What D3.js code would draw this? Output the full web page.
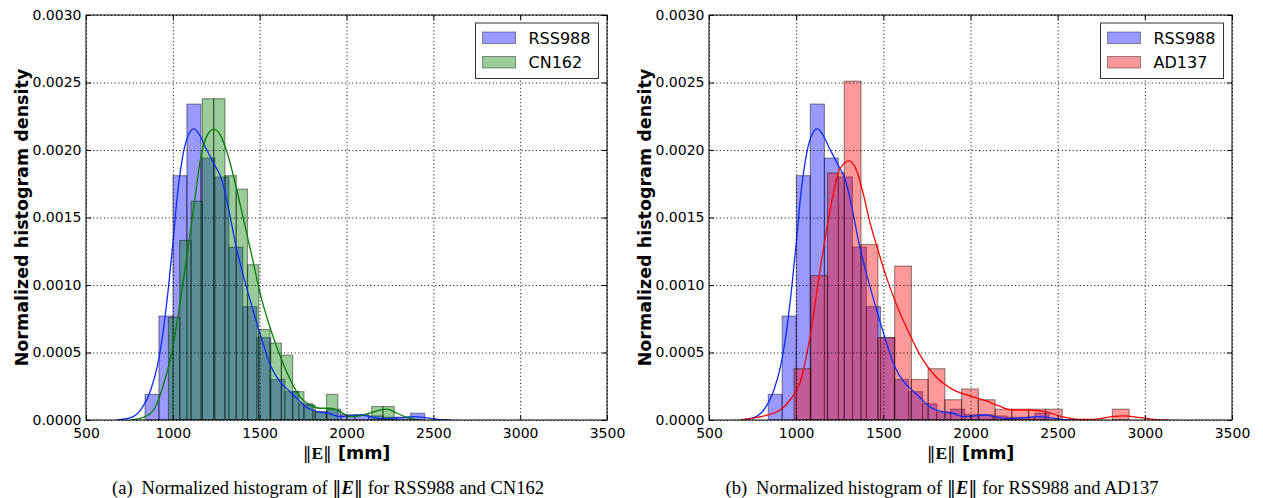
<!DOCTYPE html>
<html>
<head>
<meta charset="utf-8">
<script src="https://cdn.jsdelivr.net/npm/d3@7"></script>
<style>
  body { margin: 0; background: #fff; }
  svg text { fill: #000; }
  .tick text { font-family: "DejaVu Sans", sans-serif; font-size: 14px; }
</style>
</head>
<body>
<svg id="chart" width="1263" height="498"></svg>
<script>
// axis ticks
const xTicks = [500, 1000, 1500, 2000, 2500, 3000, 3500];
const yTicks = [0, 0.0005, 0.001, 0.0015, 0.002, 0.0025, 0.003];

// RSS988 histogram (bin edges in mm, normalized density)
const rssEdges = [840, 920, 1001, 1081, 1162, 1242, 1323, 1403, 1484, 1564, 1645,
                  1725, 1806, 1886, 1967, 2047, 2128, 2208, 2289, 2369, 2450];
const rssDensity = [0.00019, 0.00077, 0.00181, 0.00234, 0.00194, 0.00180, 0.00128, 0.00084, 0.00061, 0.00030,
                    0.00021, 0.00012, 0.00006, 0.00008, 0.00004, 0.00004, 0.00003, 0.00002, 0.00002, 0.00005];
// RSS988 density curve
const rssKdeX = [680, 757, 814, 872, 910, 948, 977, 1002, 1025, 1054, 1083, 1121, 1150, 1188, 1236, 1284, 1322,
                 1360, 1408, 1456, 1504, 1564, 1619, 1650, 1707, 1764, 1802, 1848, 1897, 1963, 2021, 2087, 2136,
                 2212, 2290, 2385, 2462, 2538, 2600];
const rssKdeY = [0, 0.000017, 0.000074, 0.00022, 0.000395, 0.00069, 0.00101, 0.00133, 0.00165, 0.00193, 0.00209,
                 0.002156, 0.00212, 0.00202, 0.0019, 0.00177, 0.00156, 0.00131, 0.00106, 0.00084, 0.00063, 0.0004,
                 0.00028, 0.00024, 0.00017, 0.0001, 0.000074, 0.00006, 0.00005, 0.000025, 0.00003, 0.000037,
                 0.000025, 0.00001, 0.000015, 0.000025, 0.000015, 0.000003, 0];

// CN162 histogram
const cnEdges = [975, 1040, 1105, 1170, 1235, 1300, 1365, 1430, 1495, 1560, 1625,
                 1690, 1755, 1820, 1885, 1950, 2015, 2080, 2145, 2210, 2275];
const cnDensity = [0.00076, 0.00133, 0.00162, 0.00238, 0.00238, 0.00181, 0.00171, 0.00115, 0.00067, 0.00057,
                   0.00048, 0.00021, 0.00011, 0.00006, 0.00019, 0, 0, 0, 0.0001, 0.0001];
const cnKdeX = [757, 843, 901, 948, 997, 1044, 1083, 1121, 1159, 1198, 1236, 1274, 1313, 1360, 1408, 1456, 1504,
                1561, 1619, 1676, 1733, 1791, 1848, 1906, 1963, 2021, 2078, 2155, 2232, 2290, 2366, 2420];
const cnKdeY = [0, 0.000025, 0.0001, 0.00027, 0.00052, 0.00089, 0.00123, 0.00158, 0.00193, 0.00211, 0.002153,
                0.00211, 0.00198, 0.00175, 0.00148, 0.00121, 0.00093, 0.00068, 0.00047, 0.0003, 0.00017, 0.00011,
                0.000087, 0.000087, 0.000062, 0.000025, 0.00003, 0.00006, 0.00008, 0.00005, 0.000012, 0];

// AD137 histogram
const adEdges = [988, 1084, 1180, 1276, 1372, 1469, 1565, 1661, 1757, 1853, 1949,
                 2045, 2141, 2237, 2333, 2430, 2526, 2622, 2718, 2814, 2910];
const adDensity = [0.00038, 0.00107, 0.00183, 0.00251, 0.00130, 0.00061, 0.00114, 0.00030, 0.00038, 0.00015,
                   0.00023, 0.00015, 0.00008, 0.00008, 0.00008, 0.00008, 0, 0, 0, 0.00008];
const adKdeX = [680, 833, 909, 966, 1023, 1080, 1137, 1194, 1251, 1304, 1346, 1384, 1422, 1469, 1517, 1574, 1631,
                1707, 1802, 1897, 1992, 2087, 2163, 2239, 2334, 2429, 2524, 2619, 2714, 2810, 2880, 2960, 3050, 3140];
const adKdeY = [0, 0.000037, 0.000074, 0.00015, 0.00028, 0.00062, 0.00111, 0.00155, 0.00186, 0.00192, 0.00185,
                0.00168, 0.00147, 0.00126, 0.00106, 0.00086, 0.00069, 0.00049, 0.00032, 0.000227, 0.00018,
                0.000143, 0.000104, 0.000074, 0.000074, 0.000062, 0.000025, 0.000005, 0.000005, 0.000025,
                0.00003, 0.00002, 0.000005, 0];

const svg = d3.select("#chart");
const serif = "Liberation Serif, serif";

/* append a norm bar (double vertical stroke) */
function normBar(t) {
	t.append("tspan")
		.attr("font-family", "DejaVu Serif")
		.attr("font-weight", "normal").attr("font-style", "normal")
		.text("\u2016");
}

function drawPanel(p) {
	const x = d3.scaleLinear().domain([500, 3500]).range([p.left, p.right]);
	const y = d3.scaleLinear().domain([0, 0.003]).range([p.bottom, p.top]);
	const g = svg.append("g");

	g.append("clipPath").attr("id", "clip" + p.id)
		.append("rect")
		.attr("x", p.left).attr("y", p.top)
		.attr("width", p.right - p.left).attr("height", p.bottom - p.top);

	const plot = g.append("g").attr("clip-path", `url(#clip${p.id})`);

	/* histograms: first series, then second on top */
	p.series.forEach((s) => {
		plot.append("g").selectAll("rect")
			.data(s.density)
			.enter().append("rect")
				.attr("x", (d, i) => x(s.edges[i]))
				.attr("width", (d, i) => x(s.edges[i + 1]) - x(s.edges[i]))
				.attr("y", (d) => y(d))
				.attr("height", (d) => y(0) - y(d))
				.attr("fill", s.color)
				.attr("fill-opacity", 0.4)
				.attr("stroke", "#000")
				.attr("stroke-opacity", 0.4)
				.attr("stroke-width", 1.2);
	});

	/* dotted grid */
	g.append("g")
		.attr("transform", `translate(0,${p.bottom})`)
		.call(d3.axisBottom(x).tickValues(xTicks).tickSize(-(p.bottom - p.top)).tickFormat(""))
		.call((a) => a.select(".domain").remove())
		.selectAll("line")
			.attr("stroke", "#000").attr("stroke-dasharray", "1,2.6");
	g.append("g")
		.attr("transform", `translate(${p.left},0)`)
		.call(d3.axisLeft(y).tickValues(yTicks).tickSize(-(p.right - p.left)).tickFormat(""))
		.call((a) => a.select(".domain").remove())
		.selectAll("line")
			.attr("stroke", "#000").attr("stroke-dasharray", "1,2.6");

	/* density curves */
	const line = d3.line()
		.x((d) => x(d[0]))
		.y((d) => y(d[1]))
		.curve(d3.curveMonotoneX);
	p.series.forEach((s) => {
		plot.append("path")
			.datum(d3.zip(s.kdeX, s.kdeY))
			.attr("d", line)
			.attr("fill", "none")
			.attr("stroke", s.lineColor)
			.attr("stroke-width", 1.3);
	});

	/* axes with inner ticks on all four sides */
	const bottomAxis = g.append("g")
		.attr("transform", `translate(0,${p.bottom})`)
		.call(d3.axisBottom(x).tickValues(xTicks).tickSizeInner(-5).tickSizeOuter(0).tickPadding(8).tickFormat(d3.format("d")));
	const leftAxis = g.append("g")
		.attr("transform", `translate(${p.left},0)`)
		.call(d3.axisLeft(y).tickValues(yTicks).tickSizeInner(-5).tickSizeOuter(0).tickPadding(4).tickFormat(d3.format(".4f")));
	g.append("g")
		.attr("transform", `translate(0,${p.top})`)
		.call(d3.axisTop(x).tickValues(xTicks).tickSizeInner(-5).tickSizeOuter(0).tickFormat(""));
	g.append("g")
		.attr("transform", `translate(${p.right},0)`)
		.call(d3.axisRight(y).tickValues(yTicks).tickSizeInner(-5).tickSizeOuter(0).tickFormat(""));
	g.selectAll(".domain").remove();
	bottomAxis.selectAll("text").attr("fill", "#000");
	leftAxis.selectAll("text").attr("fill", "#000").attr("x", -4.5);

	g.append("rect")
		.attr("x", p.left).attr("y", p.top)
		.attr("width", p.right - p.left).attr("height", p.bottom - p.top)
		.attr("fill", "none").attr("stroke", "#000").attr("stroke-width", 1);

	/* legend */
	const lg = g.append("g").attr("transform", `translate(${p.right - 131.5},${p.top + 8})`);
	lg.append("rect")
		.attr("width", 123).attr("height", 55.5)
		.attr("fill", "#fff").attr("stroke", "#333").attr("stroke-width", 1);
	p.series.forEach((s, i) => {
		lg.append("rect")
			.attr("x", 7).attr("y", 9 + i * 24.5)
			.attr("width", 33).attr("height", 11.5)
			.attr("fill", s.color).attr("fill-opacity", 0.4)
			.attr("stroke", "#000").attr("stroke-opacity", 0.4);
		lg.append("text")
			.attr("x", 53).attr("y", 20.5 + i * 24.5)
			.attr("font-family", "DejaVu Sans").attr("font-size", 16)
			.text(s.name);
	});

	/* axis titles */
	g.append("text")
		.attr("transform", `translate(${p.left - 64},${(p.top + p.bottom) / 2}) rotate(-90)`)
		.attr("text-anchor", "middle")
		.attr("dy", "0.35em")
		.attr("font-family", "DejaVu Sans").attr("font-weight", "bold").attr("font-size", 17.5)
		.text("Normalized histogram density");

	const xl = g.append("text")
		.attr("x", (p.left + p.right) / 2).attr("y", 459)
		.attr("text-anchor", "middle")
		.attr("font-size", 17.5);
	normBar(xl);
	xl.append("tspan").attr("font-family", serif).attr("font-weight", "bold").text("E");
	normBar(xl);
	xl.append("tspan").attr("font-family", "DejaVu Sans").attr("font-weight", "bold").text(" [mm]");

	/* caption */
	const cap = g.append("text")
		.attr("x", p.captionX).attr("y", 494)
		.attr("text-anchor", "middle")
		.attr("font-family", serif).attr("font-size", 18.5);
	cap.append("tspan").text(p.letter);
	cap.append("tspan").attr("dx", 9).text("Normalized histogram of ");
	normBar(cap);
	cap.append("tspan").attr("font-style", "italic").attr("font-weight", "bold").text("E");
	normBar(cap);
	cap.append("tspan").text(" for " + p.series[0].name + " and " + p.series[1].name);
}

const rssSeries = { name: "RSS988", edges: rssEdges, density: rssDensity, kdeX: rssKdeX, kdeY: rssKdeY,
                    color: "#0000ff", lineColor: "#0a2cff" };

drawPanel({
	id: "a", left: 86, right: 607, top: 15, bottom: 420, captionX: 328, letter: "(a)",
	series: [rssSeries,
		{ name: "CN162", edges: cnEdges, density: cnDensity, kdeX: cnKdeX, kdeY: cnKdeY,
		  color: "#008000", lineColor: "#008000" }]
});

drawPanel({
	id: "b", left: 709, right: 1232, top: 15, bottom: 420, captionX: 942, letter: "(b)",
	series: [rssSeries,
		{ name: "AD137", edges: adEdges, density: adDensity, kdeX: adKdeX, kdeY: adKdeY,
		  color: "#ff0000", lineColor: "#ff0000" }]
});
</script>
</body>
</html>
